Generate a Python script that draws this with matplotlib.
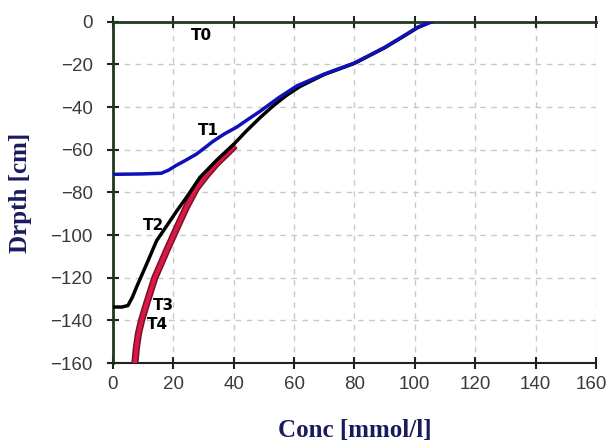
import matplotlib
matplotlib.use('Agg')
import matplotlib.pyplot as plt
from matplotlib.transforms import ScaledTranslation

# concentration profiles (conc in mmol/l, depth in cm)
t1_conc = [0, 10, 16, 18.5, 21, 24, 27.7, 30.5, 33.2, 37, 41, 45, 48.7, 55, 61, 70, 80, 90, 97, 101, 105.5]
t1_depth = [-71.5, -71.3, -71, -69.5, -67.3, -65, -62, -59, -56, -52.5, -49.4, -45.5, -42, -35.5, -30, -24.5, -19.3, -12, -6, -2.5, 0]

t2_conc = [0, 3, 5, 6.5, 7.8, 9.5, 11.2, 14.5, 18.3, 21, 24.4, 28.8, 34.3, 40, 44, 48.7, 53, 57.5, 62,
           70, 80, 90, 97, 101, 105.5]
t2_depth = [-133.7, -133.7, -133, -129, -124.5, -119, -113.5, -102.6, -94.7, -89, -82.3, -73, -65, -57.5, -51.5, -45, -39.5, -34.5, -30.3,
            -24.7, -19.5, -12.2, -6.2, -2.7, 0]

t3_conc = [7.3, 7.8, 8.5, 9.5, 11.2, 13.9, 17.8, 21.3, 24.5, 27.7, 31, 34.3, 38, 40.5]
t3_depth = [-160, -152.7, -146, -140, -132, -120, -107.3, -96.3, -86.5, -78, -72, -66.6, -61.5, -58]

labels = ['T0', 'T1', 'T2', 'T3', 'T4']
label_pos = [(26, -6.3), (28, -51), (10, -95.5), (13.4, -133), (11.2, -142)]

xticks = [0, 20, 40, 60, 80, 100, 120, 140, 160]
yticks = [0, -20, -40, -60, -80, -100, -120, -140, -160]

fig = plt.figure(figsize=(6.1, 4.45), dpi=100)
ax = fig.add_axes([0.185, 0.184, 0.792, 0.767])

ax.plot(t3_conc, t3_depth, color='#7a0f2a', lw=5.2, solid_capstyle='butt', zorder=3)
ax.plot(t3_conc, t3_depth, color='#d81845', lw=3.0, solid_capstyle='butt', zorder=3)
ax.plot(t2_conc, t2_depth, color='black', lw=2.5, zorder=4)
ax.plot(t1_conc, t1_depth, color='#1010b8', lw=2.5, zorder=5)

for txt, (x, y) in zip(labels, label_pos):
    ax.text(x, y, txt, fontsize=11, fontweight='bold', color='black',
            ha='left', va='center', zorder=6)

ax.set_xlim(0, 160)
ax.set_ylim(-160, 0)
ax.set_xticks(xticks)
ax.set_yticks(yticks)
ax.grid(True, ls=(0, (4, 4)), color='#c8c8c8', lw=1)
ax.set_axisbelow(True)

ax.spines['right'].set_visible(False)
ax.spines['left'].set_color('#1e3a1e')
ax.spines['top'].set_color('#1e3a1e')
ax.spines['left'].set_linewidth(2)
ax.spines['top'].set_linewidth(2)
ax.spines['bottom'].set_color('#222222')
ax.spines['bottom'].set_linewidth(1.5)

ax.tick_params(axis='both', direction='inout', length=9, width=1.5,
               labelsize=13.5, labelcolor='#3a3a3a', color='#222222')
ax.tick_params(axis='x', top=True, pad=5)
ax.tick_params(axis='y', pad=10)
for lab in ax.get_xticklabels() + ax.get_yticklabels():
    lab.set_family('Liberation Sans')

# nudge the last x label so it stays inside the figure
last = ax.get_xticklabels()[-1]
last.set_transform(last.get_transform() + ScaledTranslation(-3 / 72, 0, fig.dpi_scale_trans))

ax.set_xlabel('Conc [mmol/l]', fontsize=18, fontweight='bold',
              family='Liberation Serif', color='#1a1a5e')
ax.set_ylabel('Drpth [cm]', fontsize=18, fontweight='bold',
              family='Liberation Serif', color='#1a1a5e')
ax.xaxis.set_label_coords(0.5, -0.165)
ax.yaxis.set_label_coords(-0.168, 0.5)

fig.savefig('out.png', dpi=100)
